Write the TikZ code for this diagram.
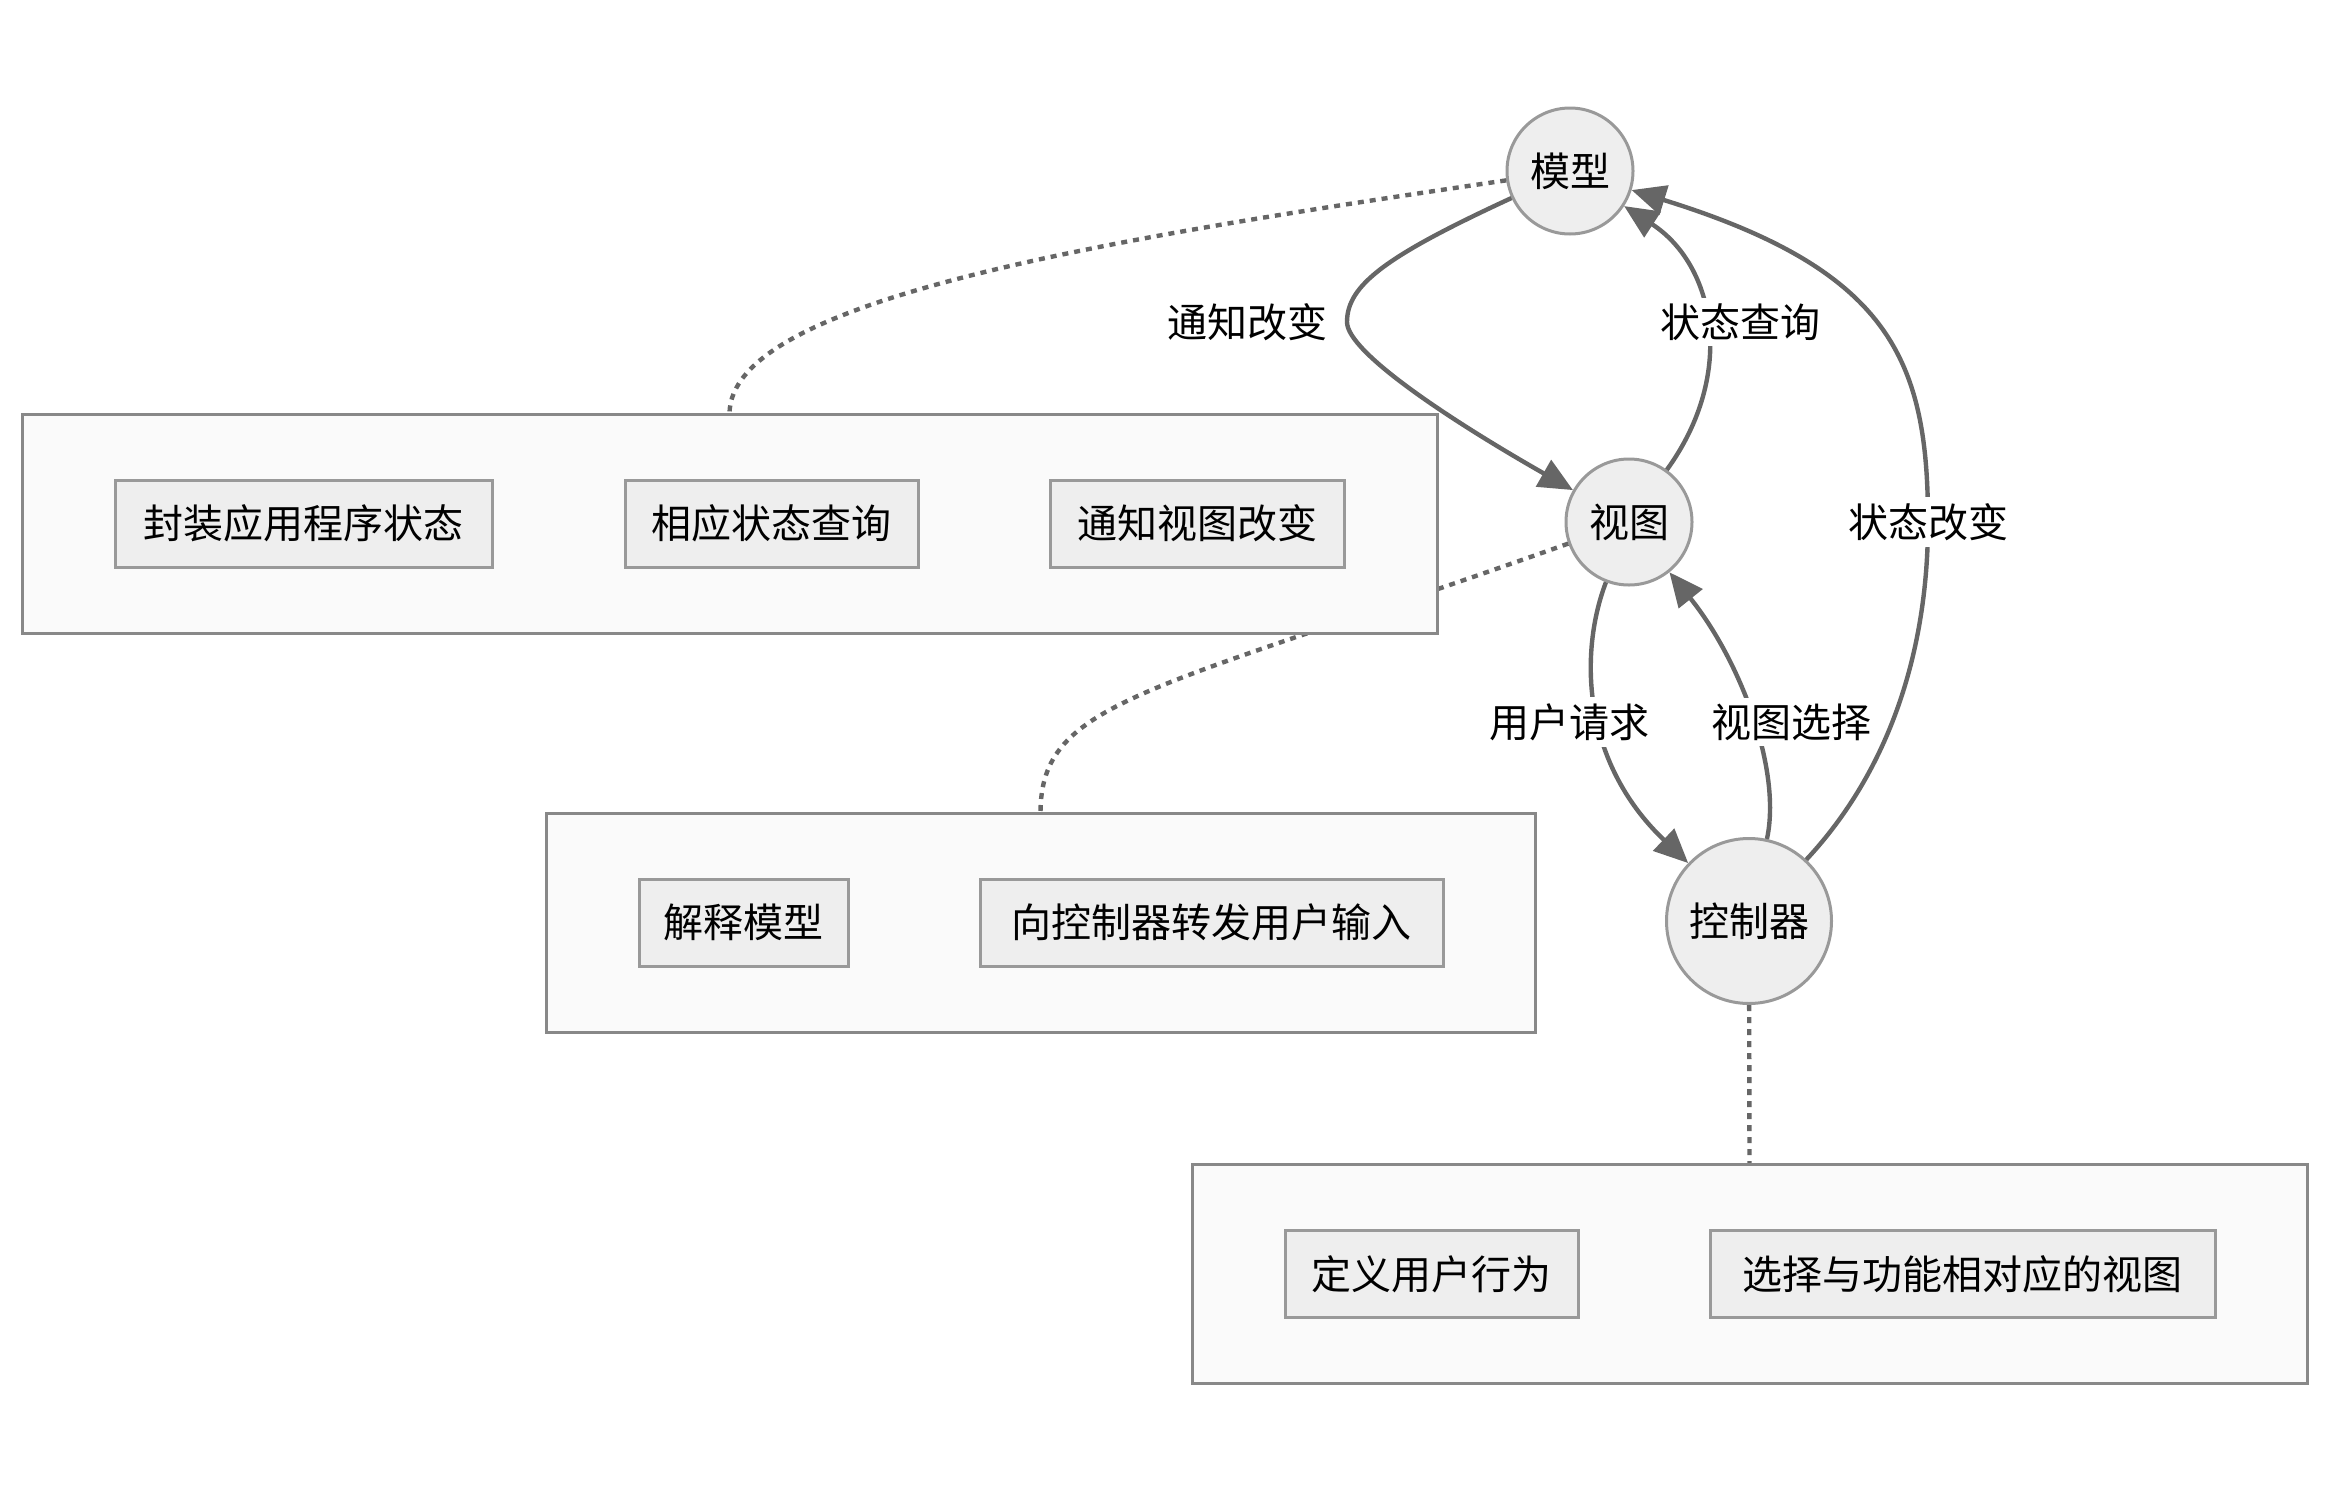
\documentclass[tikz,border=0pt]{standalone}
\usepackage{fontspec}
\setmainfont{Noto Sans CJK SC}
\usetikzlibrary{arrows.meta}
\definecolor{edgec}{HTML}{666666}
\definecolor{nodef}{HTML}{EEEEEE}
\definecolor{nodes}{HTML}{999999}
\definecolor{boxf}{HTML}{FAFAFA}
\definecolor{boxs}{HTML}{888888}
\begin{document}
\begin{tikzpicture}[x=0.5pt,y=-0.5pt,
  every node/.style={font=\fontsize{20pt}{24pt}\selectfont, text=black},
  circ/.style={circle, draw=nodes, fill=nodef, line width=1.5pt, inner sep=0pt},
  outerbox/.style={rectangle, draw=boxs, fill=boxf, line width=1.5pt, inner sep=0pt, minimum height=109.5pt},
  innerbox/.style={rectangle, draw=nodes, fill=nodef, line width=1.5pt, inner sep=0pt, minimum height=43.5pt},
  edge/.style={draw=edgec, line width=2.2pt, -{Triangle[length=17pt,width=15pt]}},
  dots/.style={draw=edgec, line width=2.2pt, dash pattern=on 3pt off 3pt},
  elabel/.style={fill=white, inner sep=3pt}
]
\useasboundingbox (0,0) rectangle (2352,1494);

% circles
\node[circ, minimum size=63pt] (m) at (1570,171) {模型};
\node[circ, minimum size=63pt] (v) at (1629,522) {视图};
\node[circ, minimum size=82.5pt] (c) at (1749,921) {控制器};

% dotted links (drawn under boxes)
\coordinate (b1top) at (729.5,414);
\coordinate (b2top) at (1040.5,813);
\coordinate (b3top) at (1749.5,1164);
\draw[dots] (m) .. controls (1100,240) and (729.5,300) .. (b1top);
\draw[dots] (v) .. controls (1148,693) and (1040.5,700) .. (b2top);
\draw[dots] (c) -- (b3top);

% outer boxes
\node[outerbox, minimum width=707.5pt] (b1) at (729.5,523.5) {};
\node[outerbox, minimum width=494.5pt] (b2) at (1040.5,922.5) {};
\node[outerbox, minimum width=557.5pt] (b3) at (1749.5,1273.5) {};

% inner boxes
\node[innerbox, minimum width=188.5pt] (i1a) at (303.5,523.5) {封装应用程序状态};
\node[innerbox, minimum width=146.5pt] (i1b) at (771.5,523.5) {相应状态查询};
\node[innerbox, minimum width=147pt] (i1c) at (1197,523.5) {通知视图改变};
\node[innerbox, minimum width=104.5pt] (i2a) at (743.5,922.5) {解释模型};
\node[innerbox, minimum width=231.5pt] (i2b) at (1211.5,922.5) {向控制器转发用户输入};
\node[innerbox, minimum width=146.5pt] (i3a) at (1431.5,1274) {定义用户行为};
\node[innerbox, minimum width=252.5pt] (i3b) at (1962.5,1274) {选择与功能相对应的视图};

% edges
\draw[edge] (m) .. controls (1386,256) and (1347,285) .. (1347,322)
             .. controls (1347,352) and (1450,420) .. (v);
\draw[edge] (v) .. controls (1737,373) and (1715,265) .. (m);
\draw[edge] (c) .. controls (1890,770) and (1928,650) .. (1928,522)
             .. controls (1928,360) and (1890,270) .. (m);
\draw[edge] (v) .. controls (1580,650) and (1580,760) .. (c);
\draw[edge] (c) .. controls (1782,770) and (1740,660) .. (v);

% edge labels
\node[elabel] (l1) at (1247,322) {通知改变};
\node[elabel] (l2) at (1740,322) {状态查询};
\node[elabel] (l3) at (1928,522) {状态改变};
\node[elabel] (l4) at (1569,722) {用户请求};
\node[elabel] (l5) at (1791,722) {视图选择};
\end{tikzpicture}
\end{document}
